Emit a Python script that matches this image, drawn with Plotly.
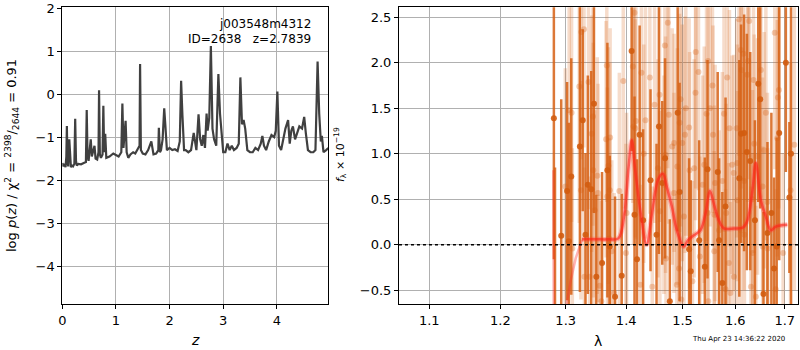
import plotly.graph_objects as go

# ---------------- left panel: log p(z) ----------------
z_grid = [0.00, 0.02, 0.04, 0.06, 0.075, 0.085, 0.095, 0.11, 0.13, 0.145, 0.16, 0.18, 0.20, 0.225, 0.24, 0.255,
          0.27, 0.30, 0.35, 0.40, 0.44, 0.455, 0.47, 0.49, 0.51, 0.53, 0.55, 0.57, 0.60, 0.62, 0.65, 0.675,
          0.685, 0.70, 0.72, 0.75, 0.765, 0.78, 0.80, 0.82, 0.88, 0.95, 1.00, 1.05, 1.10, 1.12, 1.14, 1.16,
          1.18, 1.20, 1.23, 1.27, 1.32, 1.36, 1.40, 1.44, 1.45, 1.465, 1.50, 1.55, 1.60, 1.66, 1.70, 1.75,
          1.79, 1.80, 1.82, 1.84, 1.87, 1.90, 1.92, 1.95, 2.00, 2.05, 2.10, 2.15, 2.19, 2.215, 2.24, 2.27,
          2.30, 2.35, 2.40, 2.45, 2.50, 2.54, 2.57, 2.60, 2.63, 2.66, 2.69, 2.71, 2.74, 2.77, 2.80, 2.83,
          2.87, 2.91, 2.94, 2.97, 3.00, 3.04, 3.08, 3.12, 3.16, 3.20, 3.25, 3.29, 3.32, 3.35, 3.38, 3.41,
          3.45, 3.50, 3.55, 3.60, 3.65, 3.70, 3.73, 3.76, 3.80, 3.85, 3.90, 3.95, 3.98, 4.01, 4.04, 4.08,
          4.12, 4.16, 4.21, 4.24, 4.27, 4.30, 4.34, 4.38, 4.42, 4.47, 4.51, 4.54, 4.58, 4.63, 4.68, 4.72,
          4.76, 4.79, 4.82, 4.84, 4.87, 4.92, 4.96]
log_pz = [-1.60, -1.68, -1.62, -1.70, -1.45, -0.74, -1.55, -1.68, -1.05, -1.62, -1.70, -1.66, -1.68, -1.62, -0.57, -1.55,
          -1.66, -1.62, -1.63, -1.60, -1.58, -0.37, -1.45, -1.55, -1.25, -1.05, -1.45, -1.35, -1.20, -1.50, -1.52, -1.35,
          0.09, -1.40, -1.48, -1.40, -0.27, -1.35, -0.92, -1.48, -1.45, -1.38, -1.42, -1.45, -1.35, -0.22, -1.25, -0.85,
          -0.62, -1.35, -1.48, -1.40, -1.35, -1.38, -1.30, -1.20, 0.70, -1.30, -1.38, -1.40, -1.30, -1.10, -1.40, -1.38,
          -1.30, -0.78, -1.35, -1.30, -1.05, -0.33, -0.70, -1.30, -1.25, -1.30, -1.28, -1.32, -1.10, 0.31, -0.50, -1.30,
          -1.30, -1.35, -1.30, -0.90, -1.30, -0.47, -1.05, -1.20, -0.95, -1.25, -0.45, -0.85, -0.55, 1.12, -0.80, -1.05,
          -1.20, 0.47, -0.45, -0.85, -1.35, -1.35, -1.15, -1.30, -1.20, -1.30, -1.25, -1.15, 0.39, -0.70, -0.60, -0.80,
          -1.30, -1.35, -1.35, -1.25, -1.30, -1.15, -0.97, -1.20, -1.30, -1.10, -0.95, -1.00, -0.85, 0.06, -1.20, -1.30,
          -1.05, -0.80, -0.60, -1.15, -0.85, -0.75, -1.05, -0.90, -0.75, -0.80, -0.53, -0.90, -1.30, -1.35, -1.35, -1.30,
          0.76, -0.45, -1.10, -0.97, -1.35, -1.30, -1.25]

# ---------------- right panel: 1D spectra ----------------
# beam A (strong colour)
wave_a = [1.2813, 1.2831, 1.2929, 1.3022, 1.3050, 1.3089, 1.3228, 1.3274, 1.3319, 1.3357, 1.3413, 1.3458,
          1.3497, 1.3592, 1.3681, 1.3721, 1.3810, 1.3923, 1.4093, 1.4143, 1.4186, 1.4232, 1.4293, 1.4423,
          1.4530, 1.4572, 1.4632, 1.4682, 1.4768, 1.4911, 1.4946, 1.5121, 1.5151, 1.5309, 1.5415, 1.5466,
          1.5660, 1.5687, 1.5749, 1.5811, 1.6080, 1.6115, 1.6175, 1.6229, 1.6296, 1.6390, 1.6457, 1.6497,
          1.6563, 1.6644, 1.6724, 1.6779, 1.6833, 1.6885, 1.7023, 1.7097, 1.7131]
flux_a = [1.39, -0.80, 0.10, 0.59, 0.04, 0.75, 1.08, 1.37, 0.11, 0.66, 0.61, 1.55,
          -0.35, -0.20, 0.82, -0.02, -0.57, -0.34, 2.13, 0.33, -0.16, 1.21, 0.27, 0.71,
          0.11, 1.30, 0.68, 0.95, -0.62, 1.45, 0.58, -0.05, -0.29, 0.05, -0.24, 0.83,
          0.80, 0.05, -0.42, 0.42, 0.73, 1.22, 1.23, 1.02, 0.92, 0.27, 1.77, 1.60,
          -0.54, 0.13, 0.35, -0.26, -0.02, 1.23, 2.00, 0.52, 1.00]
err_a = [1.55, 1.65, 1.50, 1.20, 1.30, 1.30, 1.60, 1.00, 0.90, 1.20, 1.30, 1.20,
         0.90, 1.00, 1.40, 1.00, 1.10, 0.90, 1.10, 1.30, 1.10, 1.20, 1.00, 1.00,
         1.00, 1.40, 0.90, 1.10, 0.90, 1.30, 1.20, 1.00, 1.00, 1.10, 1.20, 1.20,
         1.10, 0.90, 1.00, 1.20, 1.30, 1.20, 1.30, 1.30, 1.20, 1.10, 1.30, 1.20,
         0.90, 1.00, 1.10, 1.00, 1.20, 1.40, 1.20, 0.83, 1.70]

# beam B (faint colour)
wave_b = [1.2994, 1.3055, 1.3094, 1.3106, 1.3218, 1.3245, 1.3252, 1.3295, 1.3302, 1.3369, 1.3386, 1.3420,
          1.3441, 1.3446, 1.3470, 1.3513, 1.3525, 1.3554, 1.3581, 1.3659, 1.3671, 1.3681, 1.3698, 1.3710,
          1.3722, 1.3727, 1.3755, 1.3794, 1.3883, 1.3950, 1.3995, 1.4007, 1.4114, 1.4125, 1.4143, 1.4155,
          1.4168, 1.4245, 1.4263, 1.4304, 1.4334, 1.4411, 1.4454, 1.4495, 1.4554, 1.4584, 1.4589, 1.4661,
          1.4679, 1.4691, 1.4700, 1.4732, 1.4750, 1.4811, 1.4843, 1.4846, 1.4905, 1.4896, 1.4936, 1.4946,
          1.4964, 1.4977, 1.4995, 1.5026, 1.5045, 1.5060, 1.5121, 1.5130, 1.5183, 1.5215, 1.5240, 1.5245,
          1.5296, 1.5321, 1.5372, 1.5404, 1.5447, 1.5466, 1.5476, 1.5481, 1.5513, 1.5560, 1.5570, 1.5593,
          1.5598, 1.5611, 1.5687, 1.5749, 1.5781, 1.5824, 1.5811, 1.5843, 1.5875, 1.5887, 1.5906, 1.5938,
          1.5970, 1.5975, 1.6028, 1.6040, 1.6044, 1.6074, 1.6109, 1.6113, 1.6121, 1.6161, 1.6175, 1.6181,
          1.6241, 1.6256, 1.6276, 1.6310, 1.6342, 1.6346, 1.6362, 1.6376, 1.6410, 1.6443, 1.6511, 1.6543,
          1.6547, 1.6577, 1.6612, 1.6644, 1.6648, 1.6793, 1.6813, 1.6845, 1.6859, 1.6879, 1.6966, 1.7120,
          1.7200]
flux_b = [0.64, 1.48, 1.45, -0.04, 1.74, 0.60, 2.34, 2.37, -0.35, 1.79, -0.35, 1.22,
          1.41, 0.82, 0.38, 0.76, 0.57, -0.45, -0.62, 1.16, 1.97, 0.53, 0.87, 0.07,
          0.60, 1.18, -0.07, -0.53, 0.59, 1.80, -0.09, 0.35, 1.96, 1.30, 2.55, 1.28,
          1.36, -0.44, 1.89, 1.00, 1.37, 1.84, -0.46, 1.54, 0.84, 1.65, 0.37, 0.66,
          2.19, 0.99, -0.15, 2.44, 1.43, 1.08, 0.57, 1.12, 0.86, -0.44, -0.26, 1.34,
          1.60, -0.60, 1.12, 0.31, 1.21, 1.50, 1.29, 0.82, -0.40, 0.84, 1.67, 2.12,
          1.90, -0.13, 0.66, 0.88, 1.44, 0.35, 2.02, -0.62, 1.50, 1.75, 1.21, -0.07,
          0.33, 0.68, 0.16, 0.70, 1.44, 0.35, -0.49, 1.84, -0.20, 1.28, -0.53, 0.88,
          0.79, -0.35, 1.28, 0.90, 0.49, 2.48, 2.14, 0.16, 1.92, 2.10, 0.70, 0.11,
          1.87, 2.02, 2.46, -0.46, 0.50, -0.09, 1.81, 1.11, -0.57, 0.97, 1.92, 0.64,
          -0.02, 1.04, 1.45, 0.47, -0.04, 2.33, -0.49, 1.17, 1.62, 1.70, -0.09, 0.60,
          1.10]
err_b = [1.30, 1.40, 1.20, 1.10, 1.50, 1.20, 1.40, 1.30, 1.20, 1.40, 1.10, 1.30,
         1.20, 1.40, 1.10, 1.30, 1.20, 1.00, 1.10, 1.30, 1.50, 1.20, 1.30, 1.10,
         1.40, 1.20, 1.00, 1.10, 1.30, 1.40, 1.20, 1.10, 1.50, 1.30, 1.60, 1.20,
         1.30, 1.10, 1.40, 1.20, 1.30, 1.50, 1.10, 1.30, 1.20, 1.40, 1.10, 1.20,
         1.50, 1.30, 1.10, 1.60, 1.20, 1.30, 1.10, 1.20, 1.30, 1.00, 1.10, 1.20,
         1.40, 1.10, 1.30, 1.20, 1.30, 1.40, 1.20, 1.30, 1.10, 1.20, 1.40, 1.50,
         1.30, 1.10, 1.20, 1.30, 1.40, 1.10, 1.50, 1.00, 1.30, 1.40, 1.20, 1.10,
         1.20, 1.30, 1.10, 1.20, 1.30, 1.20, 1.10, 1.40, 1.10, 1.30, 1.00, 1.20,
         1.30, 1.10, 1.20, 1.30, 1.20, 1.50, 1.40, 1.10, 1.30, 1.40, 1.20, 1.10,
         1.40, 1.30, 1.50, 1.10, 1.20, 1.10, 1.30, 1.20, 1.00, 1.30, 1.40, 1.20,
         1.10, 1.30, 1.40, 1.20, 1.10, 1.50, 1.10, 1.30, 1.40, 1.30, 1.10, 1.40,
         1.60]

# best-fit model
model_wave = [1.3260, 1.3500, 1.3700, 1.3866, 1.3960, 1.4040, 1.4096, 1.4150, 1.4250, 1.4354, 1.4450,
              1.4560, 1.4642, 1.4720, 1.4805, 1.4900, 1.5022, 1.5100, 1.5176, 1.5331, 1.5430, 1.5510,
              1.5600, 1.5682, 1.5779, 1.5979, 1.6150, 1.6241, 1.6341, 1.6409, 1.6510, 1.6611, 1.6713,
              1.6816, 1.7054]
model_flux = [0.06, 0.06, 0.06, 0.07, 0.30, 0.85, 1.15, 0.85, 0.35, 0.00, 0.35,
              0.72, 0.78, 0.62, 0.42, 0.15, -0.02, 0.05, 0.09, 0.16, 0.35, 0.59,
              0.42, 0.27, 0.18, 0.18, 0.19, 0.27, 0.60, 0.90, 0.49, 0.31, 0.16,
              0.20, 0.22]
# model of the second beam at the blue edge
edge_wave = [1.2806, 1.2812, 1.2960, 1.3018, 1.3084, 1.3160, 1.3260]
edge_flux = [0.82, -1.20, -1.80, -0.64, -0.38, -0.15, 0.055]

DARK = "rgba(214,96,20,0.85)"
DARK_M = "rgba(210,92,15,0.9)"
LIGHT = "rgba(214,96,20,0.22)"
LIGHT_M = "rgba(214,96,20,0.30)"

fig = go.Figure()

fig.add_trace(go.Scatter(x=z_grid, y=log_pz, mode="lines", line=dict(color="#404040", width=2.2),
                         xaxis="x", yaxis="y", showlegend=False, hoverinfo="skip"))

fig.add_trace(go.Scatter(x=wave_b, y=flux_b, mode="markers",
                         marker=dict(color=LIGHT_M, size=6),
                         error_y=dict(type="data", array=err_b, visible=True, thickness=3.5, width=0, color=LIGHT),
                         xaxis="x2", yaxis="y2", showlegend=False, hoverinfo="skip"))
fig.add_trace(go.Scatter(x=wave_a, y=flux_a, mode="markers",
                         marker=dict(color=DARK_M, size=6),
                         error_y=dict(type="data", array=err_a, visible=True, thickness=2.5, width=0, color=DARK),
                         xaxis="x2", yaxis="y2", showlegend=False, hoverinfo="skip"))
fig.add_trace(go.Scatter(x=edge_wave, y=edge_flux, mode="lines",
                         line=dict(color="rgba(255,40,40,0.35)", width=2.5),
                         xaxis="x2", yaxis="y2", showlegend=False, hoverinfo="skip"))
fig.add_trace(go.Scatter(x=model_wave, y=model_flux, mode="lines", line_shape="spline",
                         line=dict(color="rgba(255,60,50,0.3)", width=5),
                         xaxis="x2", yaxis="y2", showlegend=False, hoverinfo="skip"))
fig.add_trace(go.Scatter(x=model_wave, y=model_flux, mode="lines", line_shape="spline",
                         line=dict(color="rgba(255,30,20,0.6)", width=2.5),
                         xaxis="x2", yaxis="y2", showlegend=False, hoverinfo="skip"))
# zero line
fig.add_trace(go.Scatter(x=[1.0599, 1.7284], y=[0, 0], mode="lines",
                         line=dict(color="black", width=1.5, dash="dot"),
                         xaxis="x2", yaxis="y2", showlegend=False, hoverinfo="skip"))

FONT = "DejaVu Sans"
ax_common = dict(showgrid=True, gridcolor="#b0b0b0", gridwidth=1, zeroline=False,
                 showline=True, linecolor="black", linewidth=1, mirror=True,
                 ticks="outside", ticklen=4, tickcolor="black", tickwidth=1,
                 tickfont=dict(family=FONT, size=13, color="black"), automargin=False)

fig.update_layout(
    width=800, height=350,
    margin=dict(l=0, r=0, t=0, b=0),
    paper_bgcolor="white", plot_bgcolor="white",
    font=dict(family=FONT, color="black"),
    xaxis=dict(domain=[0.0779, 0.4104], range=[0, 4.96], tickvals=[0, 1, 2, 3, 4], anchor="y", **ax_common),
    yaxis=dict(domain=[0.1314, 0.9791], range=[-4.88, 2.02], tickvals=[-4, -3, -2, -1, 0, 1, 2],
               ticklabeloverflow="allow", anchor="x", **ax_common),
    xaxis2=dict(domain=[0.49875, 0.9975], type="log", range=[0.02528, 0.2375],
                tickvals=[1.1, 1.2, 1.3, 1.4, 1.5, 1.6, 1.7],
                ticktext=["1.1", "1.2", "1.3", "1.4", "1.5", "1.6", "1.7"], anchor="y2", **ax_common),
    yaxis2=dict(domain=[0.1306, 0.9791], range=[-0.654, 2.61],
                tickvals=[-0.5, 0, 0.5, 1.0, 1.5, 2.0, 2.5], tickformat=".1f", anchor="x2", **ax_common),
)

ann = [
    dict(text="j003548m4312", x=313, y=24, xanchor="right", yanchor="middle", size=12, angle=0),
    dict(text="ID=2638   z=2.7839", x=313, y=39, xanchor="right", yanchor="middle", size=12, angle=0),
    dict(text="<i>z</i>", x=195, y=340, xanchor="center", yanchor="middle", size=14, angle=0),
    dict(text="λ", x=598, y=341, xanchor="center", yanchor="middle", size=14, angle=0),
    dict(text="log <i>p</i>(<i>z</i>) / χ<sup>2</sup> = <sup>2398</sup>/<sub>2644</sub> = 0.91",
         x=12, y=156, xanchor="center", yanchor="middle", size=13, angle=-90),
    dict(text="<i>f</i><sub>λ</sub> × 10<sup>−19</sup>", x=340, y=155, xanchor="center", yanchor="middle",
         size=11, angle=-90),
    dict(text="Thu Apr 23 14:36:22 2020", x=787, y=339, xanchor="right", yanchor="middle", size=7, angle=0),
]
for a in ann:
    fig.add_annotation(text=a["text"], x=a["x"] / 800, y=1 - a["y"] / 350, xref="paper", yref="paper",
                       xanchor=a["xanchor"], yanchor=a["yanchor"], showarrow=False, textangle=a["angle"],
                       font=dict(family=FONT, size=a["size"], color="black"))

fig.write_html("out.html", config={"displayModeBar": False},
               post_script="document.body.style.margin='0';document.body.style.overflow='hidden';")
